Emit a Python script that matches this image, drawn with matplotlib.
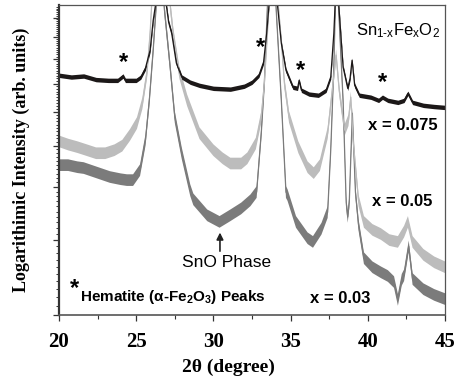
import matplotlib
matplotlib.use('Agg')
import matplotlib.pyplot as plt
from matplotlib.ticker import FixedLocator, NullFormatter
import numpy as np

# XRD patterns of Sn(1-x)Fe(x)O2
# 2theta in degree, intensity in arb. units (log axis)
two_theta_075 = [20.0, 20.8, 21.6, 22.4, 23.2, 23.8, 24.15, 24.3, 25.0, 25.3, 25.6, 25.9,
                 26.1, 26.25, 26.55, 26.95, 27.1, 27.3, 27.6, 27.95, 28.5, 29.1, 30.0, 31.1,
                 32.0, 32.5, 32.95, 33.25, 33.45, 33.6, 33.85, 34.15, 34.4, 34.7, 35.15, 35.45,
                 35.55, 35.7, 36.2, 36.8, 37.3, 37.6, 37.8, 37.88, 38.0, 38.12, 38.4, 38.7,
                 38.85, 38.98, 39.15, 39.45, 40.2, 40.7, 40.95, 41.3, 41.95, 42.35, 42.6, 42.9,
                 43.6, 44.3, 45.0]
intensity_075 = [7.32, 7.25, 7.29, 7.15, 7.12, 7.12, 7.29, 7.12, 7.12, 7.25, 7.61, 8.38,
                 9.85, 10.7, 30.0, 10.7, 9.75, 9.18, 7.82, 7.25, 7.05, 6.93, 6.82, 6.79,
                 6.90, 7.05, 7.32, 7.86, 9.18, 10.7, 30.0, 10.7, 8.70, 7.52, 6.86, 6.82,
                 7.12, 6.75, 6.61, 6.57, 6.75, 7.25, 9.18, 10.7, 30.0, 10.7, 7.65, 6.82,
                 7.20, 7.94, 6.93, 6.57, 6.50, 6.39, 6.50, 6.39, 6.32, 6.39, 6.64, 6.32,
                 6.22, 6.18, 6.15]

two_theta_05 = [20.0, 20.6, 21.2, 21.8, 22.4, 23.0, 23.6, 24.1, 24.6, 25.05, 25.4, 25.7,
                25.9, 26.0, 26.55, 27.2, 27.4, 27.8, 28.3, 29.1, 30.0, 30.6, 31.1, 31.8,
                32.2, 32.75, 33.1, 33.3, 33.5, 33.6, 33.9, 34.2, 34.4, 34.6, 34.9, 35.5,
                36.1, 36.5, 36.9, 37.4, 37.75, 37.95, 38.15, 38.5, 38.75, 38.9, 39.05, 39.4,
                39.75, 40.3, 40.85, 41.4, 41.95, 42.35, 42.6, 42.9, 43.6, 44.3, 45.0]
intensity_05 = [5.12, 5.03, 4.96, 4.88, 4.80, 4.80, 4.88, 5.00, 5.30, 5.65, 6.29, 7.41,
                9.18, 10.7, 40.0, 10.7, 9.18, 7.41, 6.39, 5.35, 4.88, 4.67, 4.54, 4.54,
                4.67, 5.06, 5.84, 7.01, 9.18, 10.7, 40.0, 10.7, 8.84, 7.01, 5.84, 4.96,
                4.45, 4.31, 4.50, 5.35, 7.01, 8.16, 6.75, 5.44, 5.74, 6.50, 5.15, 3.72,
                3.31, 3.17, 3.10, 3.00, 2.97, 3.14, 3.31, 2.97, 2.77, 2.66, 2.59]

two_theta_03 = [20.0, 20.6, 21.2, 21.6, 22.4, 23.3, 24.0, 24.4, 24.8, 25.25, 25.6, 25.85,
                26.1, 26.3, 26.55, 26.8, 27.2, 27.5, 27.95, 28.5, 28.7, 29.6, 30.4, 31.1,
                31.8, 32.4, 32.8, 33.1, 33.3, 33.5, 33.9, 34.05, 34.4, 34.7, 34.8, 35.35,
                36.1, 36.45, 37.0, 37.4, 37.6, 37.8, 37.9, 38.0, 38.1, 38.4, 38.6, 38.7,
                38.8, 39.0, 39.2, 39.4, 39.75, 40.3, 40.85, 41.3, 41.7, 41.95, 42.2, 42.35,
                42.65, 42.9, 43.6, 44.3, 45.0]
intensity_03 = [4.50, 4.50, 4.45, 4.43, 4.33, 4.22, 4.17, 4.15, 4.15, 4.38, 5.15, 6.39,
                8.38, 10.7, 60.0, 10.7, 7.65, 5.84, 4.80, 3.93, 3.74, 3.43, 3.31, 3.43,
                3.56, 3.72, 3.89, 5.35, 7.01, 10.7, 50.0, 10.7, 6.39, 3.89, 3.83, 3.31,
                3.03, 2.97, 3.19, 3.49, 4.88, 7.65, 10.7, 40.0, 10.7, 6.39, 3.68, 3.40,
                3.68, 5.96, 3.89, 3.26, 2.72, 2.59, 2.52, 2.47, 2.39, 2.17, 2.42, 2.48,
                2.90, 2.43, 2.30, 2.23, 2.18]

# hematite peak markers (2theta, intensity)
star_theta = [24.21, 33.02, 35.67, 40.98]
star_level = [7.86, 8.52, 7.52, 7.05]

# vertical spread of the counting noise (factor on the log axis)
noise_075 = 1.012
noise_05 = 1.032
noise_03 = 1.032

serif = 'Liberation Serif'
sans = 'Liberation Sans'
plt.rcParams['mathtext.fontset'] = 'custom'
plt.rcParams['mathtext.rm'] = sans
plt.rcParams['mathtext.it'] = sans + ':italic'
plt.rcParams['mathtext.bf'] = sans + ':bold'

fig = plt.figure(figsize=(4.62, 3.84), dpi=100)
ax = fig.add_axes([0.1277, 0.1797, 0.8355, 0.807])

series = [
    (two_theta_03, intensity_03, noise_03, '#7b7b7b'),
    (two_theta_05, intensity_05, noise_05, '#bcbcbc'),
    (two_theta_075, intensity_075, noise_075, '#1c1818'),
]
for tt, inten, noise, col in series:
    tt = np.array(tt)
    inten = np.array(inten)
    ax.fill_between(tt, inten / noise, inten * noise, color=col, lw=0)
    ax.plot(tt, inten, color=col, lw=0.9)

ax.set_xlim(20, 45)
ax.set_yscale('log')
ax.set_ylim(2, 10.7)

ax.yaxis.set_major_locator(FixedLocator(range(2, 11)))
minors = [v for v in np.arange(2.1, 10.7, 0.1) if abs(v - round(v)) > 0.01]
ax.yaxis.set_minor_locator(FixedLocator(minors))
ax.yaxis.set_major_formatter(NullFormatter())
ax.yaxis.set_minor_formatter(NullFormatter())

ax.xaxis.set_major_locator(FixedLocator([20, 25, 30, 35, 40, 45]))
ax.xaxis.set_minor_locator(FixedLocator([22.5, 27.5, 32.5, 37.5, 42.5]))

ax.tick_params(axis='y', which='major', direction='out', length=4, width=0.9, color='#333')
ax.tick_params(axis='y', which='minor', direction='out', length=2.5, width=0.7, color='#333')
ax.tick_params(axis='x', which='major', direction='out', length=4, width=0.9, color='#333', pad=8)
ax.tick_params(axis='x', which='minor', direction='out', length=3, width=0.8, color='#333')

for lab in ax.get_xticklabels():
    lab.set_fontfamily(serif)
    lab.set_fontweight('bold')
    lab.set_fontsize(15)

ax.spines['left'].set_linewidth(1.6)
ax.spines['left'].set_color('#333')
ax.spines['bottom'].set_linewidth(1.2)
ax.spines['bottom'].set_color('#555')
ax.spines['top'].set_linewidth(0.9)
ax.spines['top'].set_color('#555')
ax.spines['right'].set_linewidth(0.9)
ax.spines['right'].set_color('#555')

ax.set_xlabel('2θ (degree)', fontfamily=serif, fontweight='bold', fontsize=14)
ax.xaxis.set_label_coords(0.438, -0.14)
ax.set_ylabel('Logarithimic Intensity (arb. units)', fontfamily=serif, fontweight='bold',
              fontsize=13)
ax.yaxis.set_label_coords(-0.075, 0.5)

# annotations
for tt, lv in zip(star_theta, star_level):
    ax.text(tt, lv, '*', fontfamily=sans, fontweight='bold', fontsize=17,
            ha='center', va='center')

ax.text(0.878, 0.916, r'Sn$_{\mathrm{1\text{-}x}}$Fe$_{\mathrm{x}}$O$_{\mathrm{2}}$',
        transform=ax.transAxes, fontfamily=sans, fontsize=12, ha='center', va='center')
ax.text(0.891, 0.613, 'x = 0.075', transform=ax.transAxes, fontfamily=sans,
        fontweight='bold', fontsize=12, ha='center', va='center')
ax.text(0.889, 0.365, 'x = 0.05', transform=ax.transAxes, fontfamily=sans,
        fontweight='bold', fontsize=12, ha='center', va='center')
ax.text(0.728, 0.052, 'x = 0.03', transform=ax.transAxes, fontfamily=sans,
        fontweight='bold', fontsize=12, ha='center', va='center')

ax.text(0.435, 0.171, 'SnO Phase', transform=ax.transAxes, fontfamily=sans,
        fontsize=12.5, ha='center', va='center')
ax.annotate('', xy=(0.417, 0.275), xytext=(0.417, 0.197), xycoords='axes fraction',
            arrowprops=dict(arrowstyle='-|>', color='#222', lw=1.2, mutation_scale=10))

ax.text(0.039, 0.084, '*', transform=ax.transAxes, fontfamily=sans, fontweight='bold',
        fontsize=17, ha='center', va='center')
ax.text(0.054, 0.058, r'Hematite ($\mathbf{\alpha}$-Fe$_{\mathbf{2}}$O$_{\mathbf{3}}$) Peaks',
        transform=ax.transAxes, fontfamily=sans, fontweight='bold', fontsize=11,
        ha='left', va='center')

fig.savefig('out.png', dpi=100)
